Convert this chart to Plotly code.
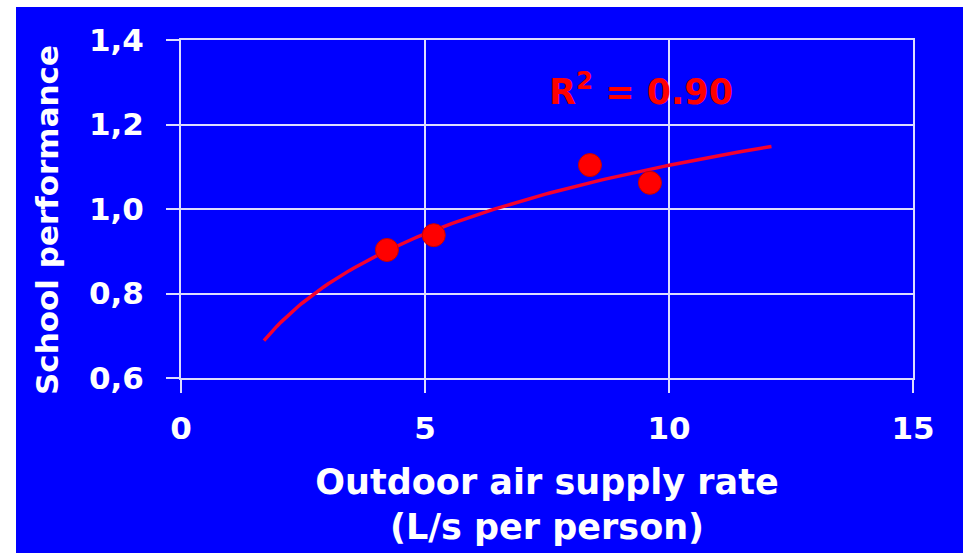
import numpy as np
import plotly.graph_objects as go

# Measured classroom data: ventilation rate vs. relative school performance
air_supply = [4.22, 5.18, 8.38, 9.61]        # L/s per person
performance = [0.903, 0.938, 1.104, 1.062]   # relative performance

x_tick_vals = [0, 5, 10, 15]
x_tick_text = ["0", "5", "10", "15"]
y_tick_vals = [0.6, 0.8, 1.0, 1.2, 1.4]
y_tick_text = ["0,6", "0,8", "1,0", "1,2", "1,4"]

# Logarithmic trendline fitted to the points (y = a + b ln x)
b, a = np.polyfit(np.log(air_supply), performance, 1)
fit_x = np.linspace(1.7, 12.1, 120)
fit_y = a + b * np.log(fit_x)
pred = a + b * np.log(air_supply)
ss_res = np.sum((np.array(performance) - pred) ** 2)
ss_tot = np.sum((np.array(performance) - np.mean(performance)) ** 2)
r2 = 1 - ss_res / ss_tot

BLUE = "#0000FF"
GRID = "#DCDCFF"
FONT = "DejaVu Sans"

fig = go.Figure()
fig.add_trace(go.Scatter(
    x=fit_x, y=fit_y, mode="lines",
    line=dict(color="#F5002E", width=3.5),
    hoverinfo="skip", showlegend=False,
))
fig.add_trace(go.Scatter(
    x=air_supply, y=performance, mode="markers",
    marker=dict(color="#FF0000", size=23, line=dict(color="#C80000", width=1)),
    showlegend=False,
))

fig.add_annotation(
    x=9.43, y=1.285, xref="x", yref="y",
    text=f"R<sup>2</sup> = {r2:.2f}", showarrow=False,
    font=dict(family=FONT, size=35, color="#FF0000", weight="bold"),
)

# Y-axis title, placed as a rotated label beside the tick labels
fig.add_annotation(
    x=-0.183, y=0.4675, xref="paper", yref="paper",
    text="School performance", textangle=-90, showarrow=False,
    xanchor="center", yanchor="middle",
    font=dict(family=FONT, size=31, color="white", weight="bold"),
)

axis_common = dict(
    showgrid=True, gridcolor=GRID, gridwidth=2,
    showline=True, linecolor=GRID, linewidth=2, mirror=True,
    ticks="outside", ticklen=13, tickwidth=2, tickcolor=GRID,
    zeroline=False,
    tickfont=dict(family=FONT, size=31, color="white", weight="bold"),
)

fig.update_xaxes(
    range=[0, 15], tickvals=x_tick_vals, ticktext=x_tick_text,
    ticklabelstandoff=9,
    title=dict(text="Outdoor air supply rate<br>(L/s per person)", standoff=24,
               font=dict(family=FONT, size=35, color="white", weight="bold")),
    **axis_common,
)
fig.update_yaxes(
    range=[0.6, 1.4], tickvals=y_tick_vals, ticktext=y_tick_text,
    ticklabelstandoff=16,
    **axis_common,
)

# White strips along the top and left edges of the slide
fig.add_shape(type="rect", xref="paper", yref="paper",
              x0=-0.3, x1=1.2, y0=1.0976, y1=1.2,
              fillcolor="white", line_width=0, layer="above")
fig.add_shape(type="rect", xref="paper", yref="paper",
              x0=-0.3, x1=-0.2254, y0=-0.6, y1=1.2,
              fillcolor="white", line_width=0, layer="above")

fig.update_layout(
    width=963, height=553,
    margin=dict(l=181, r=50, t=40, b=175),
    paper_bgcolor=BLUE, plot_bgcolor=BLUE,
    showlegend=False,
)

fig.write_html("out.html")
